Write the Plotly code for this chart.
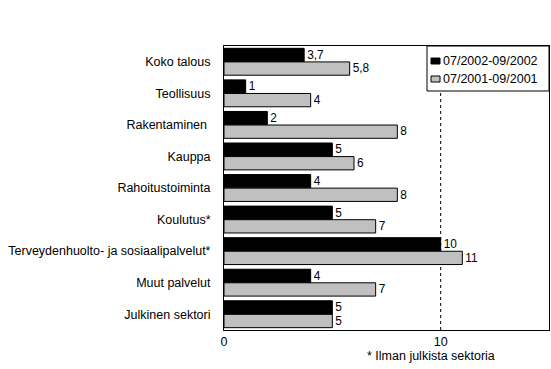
import plotly.graph_objects as go

categories = ["Koko talous", "Teollisuus", "Rakentaminen ", "Kauppa", "Rahoitustoiminta",
              "Koulutus*", "Terveydenhuolto- ja sosiaalipalvelut*", "Muut palvelut", "Julkinen sektori"]
s2002 = [3.7, 1, 2, 5, 4, 5, 10, 4, 5]
s2001 = [5.8, 4, 8, 6, 8, 7, 11, 7, 5]
name2002 = "07/2002-09/2002"
name2001 = "07/2001-09/2001"
xticks = [0, 10]
note = "* Ilman julkista sektoria"

def fmt(v):
    s = ("%g" % v)
    return s.replace(".", ",")

FONT = "Liberation Sans, Arial, sans-serif"
W, H = 551, 369
ML, MR, MT, MB = 224, 2, 46, 39
PW, PH = W - ML - MR, H - MT - MB

def px(xp):
    return (xp - ML) / PW

def py(yp):
    return 1 - (yp - MT) / PH

fig = go.Figure()
series = [(name2002, s2002, "black"), (name2001, s2001, "#c0c0c0")]
for name, vals, col in series:
    fig.add_trace(go.Bar(y=categories, x=vals, orientation="h", name=name,
                         marker=dict(color=col, line=dict(color="black", width=1)),
                         text=[fmt(v) for v in vals], textposition="outside",
                         textfont=dict(family=FONT, size=12.5, color="black"),
                         cliponaxis=False, showlegend=False))

fig.add_shape(type="line", x0=10, x1=10, y0=0, y1=1, xref="x", yref="paper",
              line=dict(color="black", width=1, dash="3px,3px"), layer="below")

# legend box
fig.add_shape(type="rect", xref="paper", yref="paper", x0=px(427), x1=1, y0=py(91), y1=1,
              line=dict(color="black", width=1), fillcolor="white", layer="above")
for i, (name, vals, col) in enumerate(series):
    yc = 61 + i * 18
    fig.add_shape(type="rect", xref="paper", yref="paper", x0=px(431), x1=px(440),
                  y0=py(yc + 3), y1=py(yc - 3), line=dict(color="black", width=1),
                  fillcolor=col, layer="above")
    fig.add_annotation(text=name, xref="paper", yref="paper", x=px(441), y=py(yc),
                       xanchor="left", yanchor="middle", showarrow=False,
                       font=dict(family=FONT, size=12.5, color="black"))

fig.add_annotation(text=note, x=9.55, y=-0.06, xref="x", yref="paper", yanchor="top",
                   showarrow=False, font=dict(family=FONT, size=12.5, color="black"))

fig.update_layout(
    width=W, height=H,
    margin=dict(l=ML, r=MR, t=MT, b=MB),
    paper_bgcolor="white", plot_bgcolor="white",
    barmode="group", bargap=0.14, bargroupgap=0.02,
    font=dict(family=FONT, size=12.5, color="black"),
    showlegend=False,
    xaxis=dict(range=[0, 15], tickvals=xticks, showgrid=False, zeroline=False,
               showline=True, linecolor="black", linewidth=1, mirror=True,
               ticks="", tickfont=dict(family=FONT, size=12.5)),
    yaxis=dict(autorange="reversed", showgrid=False, zeroline=False,
               showline=True, linecolor="black", linewidth=1, mirror=True,
               ticks="", ticklabelstandoff=10, tickfont=dict(family=FONT, size=12.5)),
)

fig.write_html("out.html")
